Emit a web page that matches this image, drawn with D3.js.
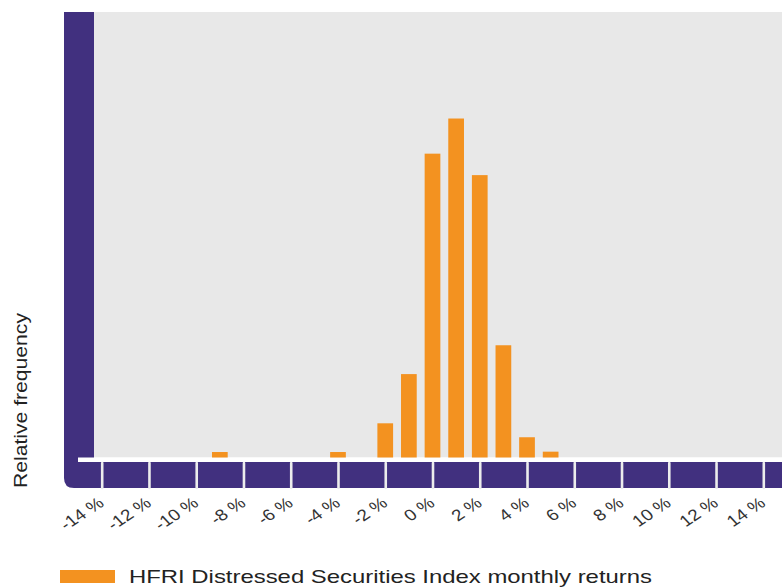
<!DOCTYPE html>
<html>
<head>
<meta charset="utf-8">
<script src="https://cdn.jsdelivr.net/npm/d3@7"></script>
<style>
  body { margin: 0; background: #fff; }
  svg { display: block; font-family: Arial, "Liberation Sans", sans-serif; }
</style>
</head>
<body>
<div id="chart"></div>
<script>
// monthly return buckets (%), and relative frequency of each bucket (%)
const returnBins = [-9, -4, -2, -1, 0, 1, 2, 3, 4, 5];
const relFreq = [0.46, 0.46, 2.87, 7.0, 25.5, 28.45, 23.7, 9.42, 1.7, 0.49];
const tickValues = d3.range(-14, 15, 2);
const seriesName = "HFRI Distressed Securities Index monthly returns";
const yLabel = "Relative frequency";

const width = 782, height = 587;
const purple = "#41307f", orange = "#f39220", plotBg = "#e8e8e8";

const frame = {left: 64, barW: 30, top: 12, base: 457.5, bandTop: 462, bandBottom: 488};

const svg = d3.select("#chart").append("svg")
  .attr("width", width)
  .attr("height", height);

const x = d3.scaleLinear().domain([-14, 14]).range([101.7, 763.3]);
const y = d3.scaleLinear().domain([0, 37.39]).range([frame.base, frame.top]);
const step = x(1) - x(0);
const barWidth = step * 0.665;

// purple frame: left bar + bottom band with rounded bottom-left corner
const r = 10;
svg.append("path")
  .attr("fill", purple)
  .attr("d", `M${frame.left},${frame.top} H${frame.left + frame.barW} V${frame.bandTop} H${width}
    V${frame.bandBottom} H${frame.left + r} Q${frame.left},${frame.bandBottom} ${frame.left},${frame.bandBottom - r} Z`);

// plot background
svg.append("rect")
  .attr("x", frame.left + frame.barW)
  .attr("y", frame.top)
  .attr("width", width - frame.left - frame.barW)
  .attr("height", frame.base - frame.top)
  .attr("fill", plotBg);

// white baseline strip
svg.append("rect")
  .attr("x", 78)
  .attr("y", frame.base)
  .attr("width", width - 78)
  .attr("height", frame.bandTop - frame.base)
  .attr("fill", "#fff");

// bars
svg.append("g").selectAll("rect")
  .data(returnBins.map((b, i) => ({bin: b, v: relFreq[i]})))
  .join("rect")
    .attr("x", d => x(d.bin) - barWidth / 2)
    .attr("y", d => y(d.v))
    .attr("width", barWidth)
    .attr("height", d => y(0) - y(d.v))
    .attr("fill", orange);

// x axis
const xAxis = d3.axisBottom(x)
  .tickValues(tickValues)
  .tickSize(frame.bandBottom - frame.bandTop - 1)
  .tickPadding(0)
  .tickFormat(d => d + " %");

const gx = svg.append("g")
  .attr("transform", `translate(0,${frame.bandTop + 1})`)
  .call(xAxis);
gx.select(".domain").remove();
gx.selectAll(".tick line")
  .attr("stroke", "#ececec")
  .attr("stroke-width", 2.6)
  .attr("stroke-linecap", "round");
gx.selectAll(".tick text")
  .attr("fill", "#333")
  .style("font", "16px Arial, 'Liberation Sans', sans-serif")
  .attr("text-anchor", "end")
  .attr("dy", 0)
  .attr("y", 0)
  .attr("transform", "translate(3,42) scale(1.18,1) rotate(-38)");

// y label
svg.append("text")
  .attr("transform", "translate(27,488) rotate(-90)")
  .attr("font-size", 18)
  .attr("fill", "#222")
  .attr("textLength", 175)
  .attr("lengthAdjust", "spacingAndGlyphs")
  .text(yLabel);

// legend
const legend = svg.append("g");
legend.append("rect")
  .attr("x", 60).attr("y", 570)
  .attr("width", 55).attr("height", 13)
  .attr("fill", orange);
legend.append("text")
  .attr("x", 129).attr("y", 583.3)
  .attr("font-size", 18.5)
  .attr("fill", "#222")
  .attr("textLength", 523)
  .attr("lengthAdjust", "spacingAndGlyphs")
  .text(seriesName);
</script>
</body>
</html>
